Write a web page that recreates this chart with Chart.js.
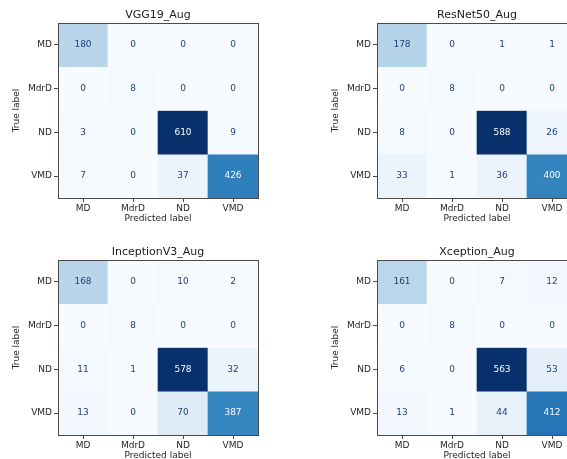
<!DOCTYPE html>
<html>
<head>
<meta charset="utf-8">
<script src="https://cdn.jsdelivr.net/npm/chart.js@4.4.1/dist/chart.umd.min.js"></script>
<style>
    html, body { margin: 0; padding: 0; background: #ffffff; overflow: hidden; }
    body { width: 567px; height: 459px; position: relative; }
    canvas { position: absolute; }
</style>
</head>
<body>
<canvas id="vggChart" width="283" height="229" style="left:0px; top:0px;"></canvas>
<canvas id="resnetChart" width="283" height="229" style="left:319px; top:0px;"></canvas>
<canvas id="inceptionChart" width="283" height="229" style="left:0px; top:237px;"></canvas>
<canvas id="xceptionChart" width="283" height="229" style="left:319px; top:237px;"></canvas>
<script>
const classLabels = ['MD', 'MdrD', 'ND', 'VMD'];

// rows = true label, columns = predicted label
const vgg19Matrix = [
    [180, 0, 0, 0],
    [0, 8, 0, 0],
    [3, 0, 610, 9],
    [7, 0, 37, 426]
];
const resnet50Matrix = [
    [178, 0, 1, 1],
    [0, 8, 0, 0],
    [8, 0, 588, 26],
    [33, 1, 36, 400]
];
const inceptionV3Matrix = [
    [168, 0, 10, 2],
    [0, 8, 0, 0],
    [11, 1, 578, 32],
    [13, 0, 70, 387]
];
const xceptionMatrix = [
    [161, 0, 7, 12],
    [0, 8, 0, 0],
    [6, 0, 563, 53],
    [13, 1, 44, 412]
];

// matplotlib "Blues"
const bluesStops = ['#f7fbff', '#deebf7', '#c6dbef', '#9ecae1', '#6baed6', '#4292c6', '#2171b5', '#08519c', '#08306b'];

Chart.defaults.font.family = "'DejaVu Sans', sans-serif";
Chart.defaults.color = '#262626';

function hexToRgb(hex) {
    return [1, 3, 5].map(i => parseInt(hex.substr(i, 2), 16));
}

function blues(t) {
    t = Math.max(0, Math.min(1, t));
    const pos = t * (bluesStops.length - 1);
    const i = Math.min(Math.floor(pos), bluesStops.length - 2);
    const f = pos - i;
    const a = hexToRgb(bluesStops[i]);
    const b = hexToRgb(bluesStops[i + 1]);
    const c = a.map((v, k) => Math.round(v + (b[k] - v) * f));
    return `rgb(${c[0]}, ${c[1]}, ${c[2]})`;
}

const cellTextPlugin = {
    id: 'cellText',
    afterDatasetsDraw(chart) {
        const matrix = chart.options.plugins.cellText.matrix;
        const maxVal = Math.max(...matrix.flat());
        const minVal = Math.min(...matrix.flat());
        const thresh = (maxVal + minVal) / 2;
        const xScale = chart.scales.x;
        const yScale = chart.scales.y;
        const ctx = chart.ctx;
        ctx.save();
        ctx.font = "9px 'DejaVu Sans', sans-serif";
        ctx.textAlign = 'center';
        ctx.textBaseline = 'middle';
        matrix.forEach((row, r) => {
            row.forEach((val, c) => {
                ctx.fillStyle = val < thresh ? '#1f4275' : '#f7fbff';
                ctx.fillText(String(val), xScale.getPixelForValue(c), yScale.getPixelForValue(r));
            });
        });
        // axes frame
        const area = chart.chartArea;
        ctx.strokeStyle = '#4a4a4a';
        ctx.lineWidth = 1;
        ctx.strokeRect(Math.round(area.left) + 0.5, Math.round(area.top) + 0.5,
            Math.round(area.right - area.left), Math.round(area.bottom - area.top));
        ctx.restore();
    }
};

function renderConfusionMatrix(canvasId, title, matrix) {
    const ctx = document.getElementById(canvasId).getContext('2d');
    const maxVal = Math.max(...matrix.flat());

    // one floating bar per cell, one dataset per true-label row
    const datasets = matrix.map((row, r) => ({
        label: classLabels[r],
        data: row.map(() => [r - 0.5, r + 0.5]),
        backgroundColor: row.map(v => blues(v / maxVal)),
        borderWidth: 0,
        barPercentage: 1,
        categoryPercentage: 1,
        grouped: false
    }));

    return new Chart(ctx, {
        type: 'bar',
        data: {
            labels: classLabels,
            datasets: datasets
        },
        options: {
            responsive: false,
            animation: false,
            layout: { padding: { left: 0, right: 25, top: 0, bottom: 0 } },
            scales: {
                x: {
                    offset: true,
                    grid: {
                        offset: false,
                        drawOnChartArea: false,
                        drawTicks: true,
                        tickLength: 4,
                        tickColor: '#4a4a4a'
                    },
                    border: { display: false },
                    ticks: { font: { size: 9 }, padding: 1, maxRotation: 0 },
                    title: { display: true, text: 'Predicted label', font: { size: 9 }, padding: { top: 0, bottom: 4.5 } },
                    afterFit(scale) { scale.height = 31; }
                },
                y: {
                    type: 'linear',
                    min: -0.5,
                    max: 3.5,
                    reverse: true,
                    grid: {
                        drawOnChartArea: false,
                        drawTicks: true,
                        tickLength: 4,
                        tickColor: '#4a4a4a'
                    },
                    border: { display: false },
                    afterBuildTicks(scale) {
                        scale.ticks = classLabels.map((_, i) => ({ value: i }));
                    },
                    ticks: {
                        font: { size: 9 },
                        padding: 2,
                        callback: v => classLabels[v]
                    },
                    title: { display: true, text: 'True label', font: { size: 9 }, padding: { top: 11, bottom: 0 } },
                    afterFit(scale) { scale.width = 58; }
                }
            },
            plugins: {
                legend: { display: false },
                tooltip: { enabled: false },
                title: {
                    display: true,
                    text: title,
                    fullSize: false,
                    color: '#1a1a1a',
                    font: { size: 11, weight: 'normal' },
                    padding: { top: 8.4, bottom: 1.4 }
                },
                cellText: { matrix: matrix }
            }
        },
        plugins: [cellTextPlugin]
    });
}

renderConfusionMatrix('vggChart', 'VGG19_Aug', vgg19Matrix);
renderConfusionMatrix('resnetChart', 'ResNet50_Aug', resnet50Matrix);
renderConfusionMatrix('inceptionChart', 'InceptionV3_Aug', inceptionV3Matrix);
renderConfusionMatrix('xceptionChart', 'Xception_Aug', xceptionMatrix);
</script>
</body>
</html>
